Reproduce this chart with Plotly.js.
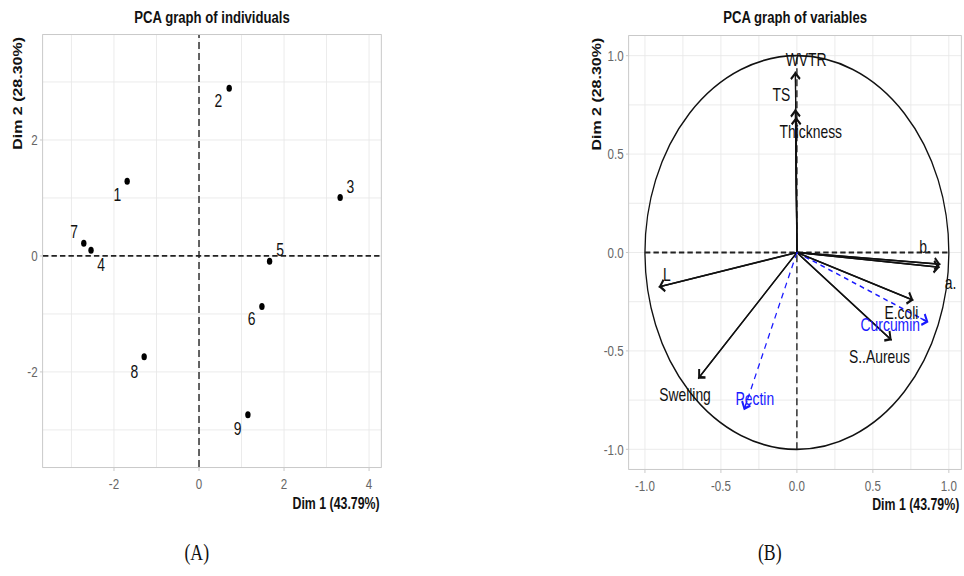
<!DOCTYPE html>
<html>
<head>
<meta charset="utf-8">
<script src="https://cdn.plot.ly/plotly-3.0.1.min.js"></script>
<style>
html,body{margin:0;padding:0;overflow:hidden;background:#fff;width:964px;height:576px;}
#chart{width:1249px;height:576px;transform:scaleX(0.7718);transform-origin:0 0;}
</style>
</head>
<body>
<div id="chart"></div>
<script>
// ---- data: individuals ----
const indNames = ['1','2','3','4','5','6','7','8','9'];
const indDim1  = [-1.69, 0.71, 3.32, -2.54, 1.66, 1.48, -2.71, -1.29, 1.15];
const indDim2  = [ 1.29, 2.89, 1.01,  0.10, -0.09, -0.87, 0.22, -1.74, -2.74];

// ---- data: active variables ----
const varNames = ['WVTR','TS','Thickness','b.','a.','L','E.coli','S..Aureus','Swelling'];
const varDim1  = [-0.01, -0.01, -0.005, 0.945, 0.94, -0.91, 0.767, 0.624, -0.650];
const varDim2  = [ 0.92,  0.73,  0.69, -0.06, -0.075, -0.175, -0.243, -0.446, -0.641];

// ---- data: supplementary variables ----
const supNames = ['Curcumin','Pectin'];
const supDim1  = [0.866, -0.349];
const supDim2  = [-0.355, -0.802];

// ---- tick labels ----
const indXTicks = [-2, 0, 2, 4];
const indXText  = ['-2','0','2','4'];
const indYTicks = [-2, 0, 2];
const indYText  = ['-2','0','2'];
const varTicks  = [-1, -0.5, 0, 0.5, 1];
const varText   = ['-1.0','-0.5','0.0','0.5','1.0'];

// ---- label placement (pixel offsets, style only) ----
const indShift = {'1':[-13,-14],'2':[-14,-13],'3':[13,10],'4':[13,-15],'5':[14,11],
                  '6':[-13,-13],'7':[-13,11],'8':[-13,-15],'9':[-13,-14]};
const varShift = {'WVTR':[14,11],'TS':[-18,14],'Thickness':[19,-15],'b.':[-20,17],'a.':[14,-16],
                  'L':[11,12],'E.coli':[-16,-13],'S..Aureus':[-16,-17],'Swelling':[-17,-16],
                  'Curcumin':[-50,-3],'Pectin':[14,11]};

const FONT = 'Liberation Sans, Arial, sans-serif';
const GRID = '#E8E8E8';
const BORDER = '#C2C2C2';
const TICKC = '#666666';
const BLUE = '#1a1aff';

function axisBase(extra){
  return Object.assign({
    showgrid:true, gridcolor:GRID, gridwidth:1,
    zeroline:false, showline:true, mirror:true, linecolor:BORDER, linewidth:1,
    ticks:'outside', ticklen:3, tickcolor:BORDER, tickwidth:1,
    tickfont:{family:FONT, size:15, color:TICKC},
    tickmode:'array', fixedrange:true
  }, extra);
}

const traces = [];
traces.push({
  type:'scatter', mode:'markers', x:indDim1, y:indDim2, xaxis:'x', yaxis:'y',
  marker:{color:'#000', size:7}, hoverinfo:'skip'
});
varNames.forEach((n,i)=>{
  traces.push({type:'scatter', mode:'lines', x:[0,varDim1[i]], y:[0,varDim2[i]], xaxis:'x2', yaxis:'y2',
    line:{color:'#111', width:1.6}, hoverinfo:'skip'});
});
supNames.forEach((n,i)=>{
  traces.push({type:'scatter', mode:'lines', x:[0,supDim1[i]], y:[0,supDim2[i]], xaxis:'x2', yaxis:'y2',
    line:{color:BLUE, width:1.6, dash:'6px,5px'}, hoverinfo:'skip'});
});

const annotations = [];
indNames.forEach((n,i)=>{
  annotations.push({x:indDim1[i], y:indDim2[i], xref:'x', yref:'y', text:n, showarrow:false,
    xshift:indShift[n][0], yshift:indShift[n][1], font:{family:FONT, size:18, color:'#111'}});
});
varNames.forEach((n,i)=>{
  annotations.push({x:varDim1[i], y:varDim2[i], xref:'x2', yref:'y2', axref:'x2', ayref:'y2',
    ax:0, ay:0, text:'', showarrow:true, arrowhead:4, arrowsize:1.5, arrowwidth:1.5, arrowcolor:'#111',
    standoff:0, startstandoff:0});
  annotations.push({x:varDim1[i], y:varDim2[i], xref:'x2', yref:'y2', text:n, showarrow:false,
    xshift:varShift[n][0], yshift:varShift[n][1], font:{family:FONT, size:18, color:'#111'}});
});
supNames.forEach((n,i)=>{
  annotations.push({x:supDim1[i], y:supDim2[i], xref:'x2', yref:'y2', axref:'x2', ayref:'y2',
    ax:supDim1[i]*0.93, ay:supDim2[i]*0.93, text:'', showarrow:true, arrowhead:4, arrowsize:1.5,
    arrowwidth:1.5, arrowcolor:BLUE, standoff:0, startstandoff:0});
  annotations.push({x:supDim1[i], y:supDim2[i], xref:'x2', yref:'y2', text:n, showarrow:false,
    xshift:varShift[n][0], yshift:varShift[n][1], font:{family:FONT, size:18, color:BLUE}});
});
const tfont = {family:FONT, size:17, color:'#111', weight:'bold'};
const afont = {family:FONT, size:16, color:'#111', weight:'bold'};
annotations.push({xref:'paper', yref:'paper', x:0.2199, y:0.969, text:'<b>PCA graph of individuals</b>', showarrow:false, font:tfont, xanchor:'center', yanchor:'middle'});
annotations.push({xref:'paper', yref:'paper', x:0.8247, y:0.969, text:'<b>PCA graph of variables</b>', showarrow:false, font:tfont, xanchor:'center', yanchor:'middle'});
annotations.push({xref:'paper', yref:'paper', x:0.0187, y:0.9392, text:'<b>Dim 2 (28.30%)</b>', textangle:-90, showarrow:false, font:afont, xanchor:'center', yanchor:'top'});
annotations.push({xref:'paper', yref:'paper', x:0.619, y:0.9375, text:'<b>Dim 2 (28.30%)</b>', textangle:-90, showarrow:false, font:afont, xanchor:'center', yanchor:'top'});
annotations.push({xref:'paper', yref:'paper', x:0.3952, y:0.1267, text:'<b>Dim 1 (43.79%)</b>', showarrow:false, font:afont, xanchor:'right', yanchor:'middle'});
annotations.push({xref:'paper', yref:'paper', x:0.9969, y:0.1233, text:'<b>Dim 1 (43.79%)</b>', showarrow:false, font:afont, xanchor:'right', yanchor:'middle'});
annotations.push({xref:'paper', yref:'paper', x:0.2044, y:0.04, text:'(A)', showarrow:false, font:{family:'Liberation Serif, serif', size:23, color:'#111'}, xanchor:'center', yanchor:'middle'});
annotations.push({xref:'paper', yref:'paper', x:0.7988, y:0.04, text:'(B)', showarrow:false, font:{family:'Liberation Serif, serif', size:23, color:'#111'}, xanchor:'center', yanchor:'middle'});

const dashLine = {color:'#222', width:1.8, dash:'7px,4px'};
const shapes = [
  {type:'line', xref:'x domain', yref:'y', x0:0, x1:1, y0:0, y1:0, line:dashLine},
  {type:'line', xref:'x', yref:'y domain', x0:0, x1:0, y0:0, y1:1, line:dashLine},
  {type:'circle', xref:'x2', yref:'y2', x0:-1, x1:1, y0:-1, y1:1, line:{color:'#111', width:1.7}},
  {type:'line', xref:'x2', yref:'y2', x0:-1, x1:1, y0:0, y1:0, line:dashLine},
  {type:'line', xref:'x2', yref:'y2', x0:0, x1:0, y0:-1, y1:1, line:dashLine}
];

const layout = {
  width:1249, height:576,
  margin:{l:0, r:0, t:0, b:0},
  paper_bgcolor:'#fff', plot_bgcolor:'#fff',
  showlegend:false,
  xaxis: axisBase({domain:[0.0446, 0.3952], range:[-3.67, 4.28], anchor:'y',
    tickvals:indXTicks, ticktext:indXText,
    minor:{tickmode:'linear', tick0:1, dtick:2, showgrid:true, gridcolor:GRID, gridwidth:1, ticks:''}}),
  yaxis: axisBase({domain:[0.1892, 0.9392], range:[-3.64, 3.81], anchor:'x',
    tickvals:indYTicks, ticktext:indYText,
    minor:{tickmode:'linear', tick0:1, dtick:2, showgrid:true, gridcolor:GRID, gridwidth:1, ticks:''}}),
  xaxis2: axisBase({domain:[0.6525, 0.9969], range:[-1.105, 1.08], anchor:'y2',
    tickvals:varTicks, ticktext:varText,
    minor:{tickmode:'linear', tick0:0.25, dtick:0.5, showgrid:true, gridcolor:GRID, gridwidth:1, ticks:''}}),
  yaxis2: axisBase({domain:[0.1858, 0.9375], range:[-1.10, 1.10], anchor:'x2',
    tickvals:varTicks, ticktext:varText,
    minor:{tickmode:'linear', tick0:0.25, dtick:0.5, showgrid:true, gridcolor:GRID, gridwidth:1, ticks:''}}),
  shapes: shapes,
  annotations: annotations
};

Plotly.newPlot('chart', traces, layout, {displayModeBar:false, staticPlot:true});
</script>
</body>
</html>
